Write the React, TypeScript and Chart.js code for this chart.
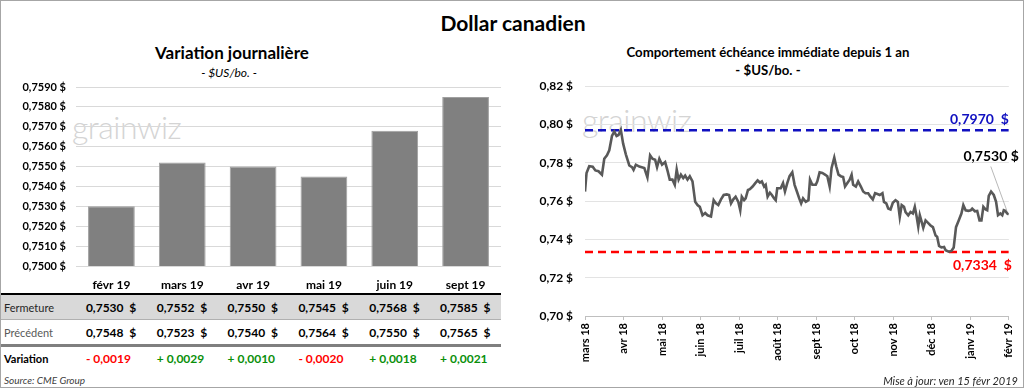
import React, { useEffect, useRef } from "react";
import { Chart, registerables } from "chart.js";

Chart.register(...registerables);

const FONT = "Lato, 'DejaVu Sans', sans-serif";

// ---- Left panel data ----
const BAR_LABELS = ["févr 19", "mars 19", "avr 19", "mai 19", "juin 19", "sept 19"];
const CLOSE_VALUES = [0.753, 0.7552, 0.755, 0.7545, 0.7568, 0.7585];
const PREV_VALUES = [0.7548, 0.7523, 0.754, 0.7564, 0.755, 0.7565];
const VARIATIONS = [-0.0019, 0.0029, 0.001, -0.002, 0.0018, 0.0021];
const BAR_Y_MIN = 0.75;
const BAR_Y_MAX = 0.759;
const BAR_Y_STEP = 0.001;

// ---- Right panel data ----
const MONTH_LABELS = ["mars 18", "avr 18", "mai 18", "juin 18", "juil 18", "août 18", "sept 18", "oct 18", "nov 18", "déc 18", "janv 19", "févr 19"];
// position in months since "mars 18"
const LINE_X = [0, 0.04, 0.11, 0.2, 0.27, 0.35, 0.44, 0.5, 0.57, 0.63,
  0.7, 0.76, 0.82, 0.87, 0.93, 0.99, 1.06, 1.15, 1.22, 1.26,
  1.32, 1.41, 1.54, 1.62, 1.69, 1.75, 1.82, 1.87, 1.93, 2.0,
  2.08, 2.14, 2.2, 2.27, 2.33, 2.38, 2.43, 2.49, 2.55, 2.6,
  2.66, 2.72, 2.79, 2.86, 2.92, 2.98, 3.05, 3.12, 3.18, 3.27,
  3.34, 3.4, 3.46, 3.53, 3.6, 3.68, 3.74, 3.79, 3.85, 3.91,
  3.98, 4.03, 4.07, 4.13, 4.17, 4.23, 4.28, 4.35, 4.42, 4.48,
  4.54, 4.59, 4.65, 4.69, 4.74, 4.8, 4.85, 4.91, 4.95, 4.99,
  5.08, 5.14, 5.19, 5.25, 5.31, 5.38, 5.44, 5.5, 5.56, 5.61,
  5.66, 5.73, 5.8, 5.84, 5.9, 5.99, 6.03, 6.09, 6.16, 6.23,
  6.29, 6.35, 6.4, 6.47, 6.52, 6.58, 6.64, 6.7, 6.75, 6.81,
  6.87, 6.92, 6.96, 7.03, 7.09, 7.16, 7.22, 7.28, 7.35, 7.41,
  7.47, 7.53, 7.59, 7.65, 7.72, 7.76, 7.82, 7.87, 7.93, 7.99,
  8.06, 8.12, 8.17, 8.22, 8.28, 8.32, 8.39, 8.45, 8.51, 8.56,
  8.61, 8.65, 8.69, 8.74, 8.78, 8.84, 8.91, 8.97, 9.03, 9.1,
  9.14, 9.19, 9.25, 9.32, 9.36, 9.44, 9.51, 9.57, 9.63, 9.7,
  9.77, 9.82, 9.88, 9.95, 10.01, 10.05, 10.12, 10.18, 10.24, 10.29,
  10.34, 10.4, 10.44, 10.48, 10.54, 10.61, 10.67, 10.72, 10.78, 10.83,
  10.87, 10.91, 10.96, 11];
const LINE_Y = [0.765, 0.7747, 0.7782, 0.778, 0.776, 0.7756, 0.7738, 0.7821, 0.7839, 0.7865,
  0.794, 0.7963, 0.794, 0.7945, 0.7972, 0.79, 0.7844, 0.7786, 0.7777, 0.7763,
  0.779, 0.778, 0.7773, 0.7724, 0.7839, 0.7821, 0.7816, 0.7777, 0.7821, 0.779,
  0.7804, 0.776, 0.7712, 0.7712, 0.7685, 0.7765, 0.7712, 0.7738, 0.772, 0.7733,
  0.7712, 0.773, 0.7703, 0.7596, 0.7579, 0.757, 0.7526, 0.7538, 0.7526, 0.752,
  0.7605, 0.7588, 0.7579, 0.7609, 0.7632, 0.7635, 0.7632, 0.7588, 0.7609, 0.7623,
  0.7596, 0.7552, 0.7623, 0.7605, 0.7614, 0.7658, 0.7662, 0.7676, 0.7694, 0.7708,
  0.7697, 0.7703, 0.7676, 0.7685, 0.7623, 0.7644, 0.7632, 0.7614, 0.7605, 0.7667,
  0.7667, 0.7694, 0.765, 0.7694, 0.773, 0.775, 0.7685, 0.765, 0.7614, 0.7588,
  0.7614, 0.7596, 0.7605, 0.7712, 0.7685, 0.7685, 0.7703, 0.775, 0.7747, 0.7738,
  0.773, 0.7676, 0.7773, 0.7827, 0.7782, 0.7738, 0.773, 0.7726, 0.7676, 0.7694,
  0.7712, 0.7738, 0.7685, 0.7676, 0.7703, 0.7676, 0.765, 0.7641, 0.7641, 0.7623,
  0.7609, 0.7641, 0.7637, 0.7632, 0.7641, 0.7596, 0.7588, 0.7561, 0.7556, 0.7591,
  0.7605, 0.7596, 0.7517, 0.7579, 0.757, 0.7543, 0.7526, 0.7543, 0.7535, 0.757,
  0.7517, 0.7467, 0.7526, 0.749, 0.746, 0.7499, 0.7485, 0.7473, 0.7464, 0.742,
  0.7414, 0.7366, 0.7358, 0.7361, 0.7343, 0.7336, 0.734, 0.7358, 0.7464, 0.7499,
  0.7535, 0.7579, 0.7552, 0.7549, 0.7552, 0.7561, 0.7547, 0.7549, 0.7499, 0.7499,
  0.757, 0.7556, 0.7552, 0.7627, 0.765, 0.7632, 0.7596, 0.7526, 0.7535, 0.7526,
  0.7552, 0.7549, 0.7535, 0.753];
const HIGH_VALUE = 0.797;
const LOW_VALUE = 0.7334;
const LAST_VALUE = 0.753;
const LINE_Y_MIN = 0.7;
const LINE_Y_MAX = 0.82;
const LINE_Y_STEP = 0.02;

const fmt4 = (v: number) => v.toFixed(4).replace(".", ",");
const fmt2 = (v: number) => v.toFixed(2).replace(".", ",");

// layout constants
const BAR_PLOT_LEFT = 75;
const BAR_PLOT_RIGHT = 500;
const colCenter = (i: number) => BAR_PLOT_LEFT + ((i + 0.5) * (BAR_PLOT_RIGHT - BAR_PLOT_LEFT)) / BAR_LABELS.length;

function BarChart() {
  const ref = useRef<HTMLCanvasElement>(null);
  useEffect(() => {
    const chart = new Chart(ref.current!, {
      type: "bar",
      data: {
        labels: BAR_LABELS,
        datasets: [
          {
            data: CLOSE_VALUES,
            backgroundColor: "#808080",
            borderColor: "#a0a0a0",
            borderWidth: 1,
            barPercentage: 0.66,
            categoryPercentage: 1,
          },
        ],
      },
      options: {
        animation: false,
        responsive: false,
        layout: { padding: { top: 8, right: 10, left: 0, bottom: 0 } },
        plugins: { legend: { display: false }, tooltip: { enabled: false } },
        scales: {
          x: {
            grid: { display: false, drawTicks: false },
            border: { display: false },
            ticks: { color: "#000", font: { family: FONT, size: 12, weight: "bold" }, padding: 12 },
            afterFit: (s: any) => { s.height = 27; },
          },
          y: {
            min: BAR_Y_MIN,
            max: BAR_Y_MAX,
            grid: { color: "#d9d9d9", drawTicks: true, tickLength: 10, tickColor: "rgba(0,0,0,0)" },
            border: { display: false },
            ticks: {
              stepSize: BAR_Y_STEP,
              padding: 0,
              color: "#000",
              font: { family: FONT, size: 11, weight: "bold" },
              callback: (v: any) => fmt4(Number(v)) + " $",
            },
            afterFit: (s: any) => { s.width = BAR_PLOT_LEFT; },
          },
        },
      },
    });
    return () => chart.destroy();
  }, []);
  return <canvas ref={ref} width={510} height={214} style={{ position: "absolute", left: 0, top: 78 }} />;
}

const labelPlugin = {
  id: "lineLabels",
  afterDatasetsDraw(chart: any) {
    const { ctx, chartArea, scales } = chart;
    const y = scales.y;
    const x = scales.x;
    ctx.save();
    ctx.font = `bold 14px ${FONT}`;
    ctx.textAlign = "right";
    ctx.textBaseline = "middle";
    ctx.fillStyle = "#1010c0";
    ctx.fillText(fmt4(HIGH_VALUE) + "  $", chartArea.right, y.getPixelForValue(HIGH_VALUE) - 11);
    ctx.fillStyle = "#ff0000";
    ctx.fillText(fmt4(LOW_VALUE) + "  $", chartArea.right + 3, y.getPixelForValue(LOW_VALUE) + 13);
    const lx = x.getPixelForValue(LINE_X[LINE_X.length - 1]);
    const ly = y.getPixelForValue(LAST_VALUE);
    ctx.fillStyle = "#000";
    ctx.fillText(fmt4(LAST_VALUE) + " $", lx + 10, ly - 58);
    ctx.strokeStyle = "#a6a6a6";
    ctx.lineWidth = 0.8;
    ctx.beginPath();
    ctx.moveTo(lx - 18, ly - 48);
    ctx.lineTo(lx - 2, ly - 4);
    ctx.stroke();
    ctx.restore();
  },
};

function LineChart() {
  const ref = useRef<HTMLCanvasElement>(null);
  useEffect(() => {
    const pts = LINE_X.map((xv, i) => ({ x: xv, y: LINE_Y[i] }));
    const xMin = LINE_X[0];
    const xMax = LINE_X[LINE_X.length - 1];
    const chart = new Chart(ref.current!, {
      type: "line",
      data: {
        datasets: [
          {
            data: pts,
            borderColor: "#595959",
            borderWidth: 2.6,
            pointRadius: 0,
            tension: 0,
          },
          {
            data: [{ x: xMin, y: HIGH_VALUE }, { x: xMax, y: HIGH_VALUE }],
            borderColor: "#1010c0",
            borderWidth: 2.5,
            borderDash: [8, 5],
            pointRadius: 0,
          },
          {
            data: [{ x: xMin, y: LOW_VALUE }, { x: xMax, y: LOW_VALUE }],
            borderColor: "#ff0000",
            borderWidth: 2.5,
            borderDash: [8, 5],
            pointRadius: 0,
          },
        ],
      },
      options: {
        animation: false,
        responsive: false,
        layout: { padding: { top: 7, right: 15, left: 0, bottom: 0 } },
        plugins: { legend: { display: false }, tooltip: { enabled: false } },
        scales: {
          x: {
            type: "linear",
            min: 0,
            max: MONTH_LABELS.length - 1,
            grid: { display: true, drawOnChartArea: false, drawTicks: true, tickLength: 4, color: "#bfbfbf" },
            border: { display: true, color: "#bfbfbf" },
            ticks: {
              stepSize: 1,
              autoSkip: false,
              maxRotation: 90,
              minRotation: 90,
              padding: 3,
              color: "#000",
              font: { family: FONT, size: 11, weight: "bold" },
              callback: (v: any) => MONTH_LABELS[Math.round(Number(v))] ?? "",
            },
            afterFit: (s: any) => { s.height = 60; },
          },
          y: {
            min: LINE_Y_MIN,
            max: LINE_Y_MAX,
            grid: { color: "#e3e3e3", drawTicks: true, tickLength: 12, tickColor: "rgba(0,0,0,0)" },
            border: { display: false },
            ticks: {
              stepSize: LINE_Y_STEP,
              padding: 0,
              color: "#000",
              font: { family: FONT, size: 12, weight: "bold" },
              callback: (v: any) => fmt2(Number(v)) + " $",
            },
            afterFit: (s: any) => { s.width = 72; },
          },
        },
      },
      plugins: [labelPlugin],
    });
    return () => chart.destroy();
  }, []);
  return <canvas ref={ref} width={512} height={297} style={{ position: "absolute", left: 512, top: 78 }} />;
}

const abs = (s: React.CSSProperties): React.CSSProperties => ({ position: "absolute", whiteSpace: "pre", ...s });

export default function App() {
  const rowText = (top: number, values: string[], colors?: string[]) =>
    values.map((t, i) => (
      <div key={i} style={abs({ left: colCenter(i) - 25.5, top, lineHeight: "16px", fontSize: 12, fontWeight: "bold", color: colors ? colors[i] : "#000" })}>{t}</div>
    ));
  return (
    <div style={{ position: "fixed", left: 0, top: 0, width: 1024, height: 388, boxSizing: "border-box", border: "1px solid #a6a6a6", background: "#fff", fontFamily: FONT, overflow: "hidden" }}>
      <div style={abs({ left: 0, width: 1024, top: 9, textAlign: "center", fontSize: 21, fontWeight: "bold", lineHeight: "26px", color: "#000" })}>Dollar canadien</div>

      {/* left panel */}
      <div style={abs({ left: 81, width: 300, top: 41, textAlign: "center", fontSize: 17, fontWeight: "bold", lineHeight: "22px" })}>Variation journalière</div>
      <div style={abs({ left: 128, width: 200, top: 64, textAlign: "center", fontSize: 12, fontStyle: "italic", lineHeight: "16px" })}>- $US/bo. -</div>
      <div style={abs({ left: 71, top: 108, fontSize: 32, fontWeight: 300, color: "#d4d4d4", lineHeight: "36px", letterSpacing: -0.5 })}>grainwiz</div>
      <BarChart />
      <div style={abs({ left: 0, top: 292, width: 500, height: 2, background: "#000" })} />
      <div style={abs({ left: 0, top: 294, width: 500, height: 24, background: "#d9d9d9" })} />
      <div style={abs({ left: 0, top: 318, width: 500, height: 1, background: "#b0b0b0" })} />
      <div style={abs({ left: 0, top: 343, width: 500, height: 3, background: "#7f7f7f" })} />
      <div style={abs({ left: 3, top: 299, fontSize: 11, color: "#262626", lineHeight: "16px" })}>Fermeture</div>
      <div style={abs({ left: 3, top: 324, fontSize: 11, color: "#595959", lineHeight: "16px" })}>Précédent</div>
      <div style={abs({ left: 3, top: 350, fontSize: 11, fontWeight: "bold", color: "#000", lineHeight: "16px" })}>Variation</div>
      {rowText(299, CLOSE_VALUES.map((v) => fmt4(v) + "  $"))}
      {rowText(324, PREV_VALUES.map((v) => fmt4(v) + "  $"))}
      {rowText(350, VARIATIONS.map((v) => (v < 0 ? "- " : "+ ") + fmt4(Math.abs(v))), VARIATIONS.map((v) => (v < 0 ? "#ff0000" : "#0a8f0a")))}
      <div style={abs({ left: 3, top: 372, fontSize: 10, fontStyle: "italic", color: "#404040", lineHeight: "14px" })}>Source: CME Group</div>

      {/* right panel */}
      <div style={abs({ left: 567, width: 400, top: 43, textAlign: "center", fontSize: 13.2, fontWeight: "bold", lineHeight: "16px" })}>Comportement échéance immédiate depuis 1 an</div>
      <div style={abs({ left: 667, width: 200, top: 61, textAlign: "center", fontSize: 13.2, fontWeight: "bold", lineHeight: "16px" })}>- $US/bo. -</div>
      <div style={abs({ left: 581, top: 101, fontSize: 32, fontWeight: 300, color: "#d4d4d4", lineHeight: "36px", letterSpacing: -0.5 })}>grainwiz</div>
      <LineChart />
      <div style={abs({ right: 5, top: 372, fontSize: 11, fontStyle: "italic", color: "#262626", lineHeight: "15px" })}>Mise à jour: ven 15 févr 2019</div>
    </div>
  );
}
